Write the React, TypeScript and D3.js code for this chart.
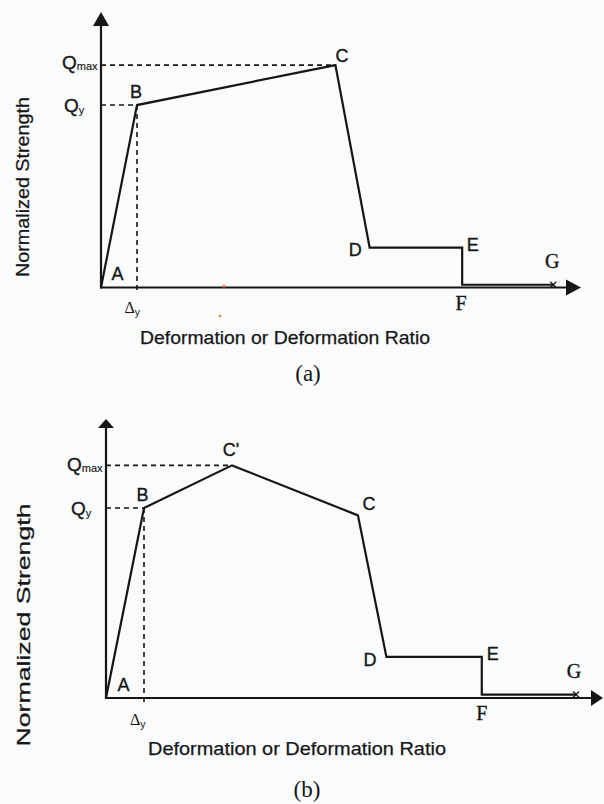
import React from 'react';
import * as d3 from 'd3';

// Panel (a): backbone curve A-B-C-D-E-F-G (deformation in units of Δy, strength in units of Qy)
const curveALabels = ['A', 'B', 'C', 'D', 'E', 'F', 'G'];
const curveADeformation = [0, 1, 6.51, 7.46, 10.03, 10.03, 12.56];
const curveAStrength = [0, 1, 1.219, 0.219, 0.219, 0.015, 0.015];

// Panel (b): A-B-C'-C-D-E-F-G
const curveBLabels = ['A', 'B', "C'", 'C', 'D', 'E', 'F', 'G'];
const curveBDeformation = [0, 1, 3.316, 6.63, 7.38, 9.89, 9.89, 12.37];
const curveBStrength = [0, 1, 1.224, 0.961, 0.216, 0.216, 0.018, 0.018];

const xTitle = 'Deformation or Deformation Ratio';
const yTitle = 'Normalized Strength';

const INK = '#161616';
const SANS = '"Liberation Sans", Arial, Helvetica, sans-serif';
const SERIF = '"Liberation Serif", "Times New Roman", serif';
const serifLabels = new Set(['F', 'G']);

interface PanelCfg {
  labels: string[];
  deformation: number[];
  strength: number[];
  qmaxIdx: number;
  xMax: number;
  yMax: number;
  xRange: [number, number];
  yRange: [number, number];
  arrowX: { len: number; half: number };
  arrowY: { len: number; half: number };
  offsets: Record<string, [number, number]>;
  dyDashEnd: number;
  qmaxLabel: { x: number; y: number };
  qyLabel: { x: number; y: number };
  deltaLabel: { x: number; y: number };
  xTitlePos: { x: number; y: number; len: number; size: number };
  yTitlePos: { x: number; y: number; len: number; size: number };
  caption: { text: string; x: number; y: number };
}

const panels: PanelCfg[] = [
  {
    labels: curveALabels,
    deformation: curveADeformation,
    strength: curveAStrength,
    qmaxIdx: 2,
    xMax: 13.33,
    yMax: 1.51,
    xRange: [101, 581],
    yRange: [287.5, 12],
    arrowX: { len: 15, half: 8 },
    arrowY: { len: 14, half: 8 },
    offsets: {
      A: [16.5, -7.5], B: [-1, -7.5], C: [6.5, -3.5], D: [-14.5, 8.5],
      E: [10.5, 3.5], F: [-1, 25], G: [-1, -17],
    },
    dyDashEnd: 294,
    qmaxLabel: { x: 62, y: 69 },
    qyLabel: { x: 64, y: 112 },
    deltaLabel: { x: 124.5, y: 313 },
    xTitlePos: { x: 285, y: 344, len: 290, size: 18.5 },
    yTitlePos: { x: 28.5, y: 187, len: 180, size: 18.5 },
    caption: { text: '(a)', x: 308, y: 381 },
  },
  {
    labels: curveBLabels,
    deformation: curveBDeformation,
    strength: curveBStrength,
    qmaxIdx: 2,
    xMax: 13.08,
    yMax: 1.468,
    xRange: [106, 603],
    yRange: [698, 419],
    arrowX: { len: 12, half: 8 },
    arrowY: { len: 9, half: 8 },
    offsets: {
      A: [17.5, -7], B: [-1.5, -7], "C'": [-1, -9.5], C: [11, -5.5],
      D: [-16.5, 9], E: [11, 3], F: [0, 25.5], G: [-2, -16.5],
    },
    dyDashEnd: 706,
    qmaxLabel: { x: 67, y: 471 },
    qyLabel: { x: 71, y: 515 },
    deltaLabel: { x: 130, y: 725 },
    xTitlePos: { x: 297, y: 755, len: 298, size: 19 },
    yTitlePos: { x: 30, y: 625, len: 243, size: 19 },
    caption: { text: '(b)', x: 307, y: 797 },
  },
];

function Panel({ cfg }: { cfg: PanelCfg }) {
  const x = d3.scaleLinear().domain([0, cfg.xMax]).range(cfg.xRange);
  const y = d3.scaleLinear().domain([0, cfg.yMax]).range(cfg.yRange);

  const pts = cfg.deformation.map((d, i) => ({
    label: cfg.labels[i],
    px: x(d),
    py: y(cfg.strength[i]),
  }));

  const line = d3.line<{ px: number; py: number }>()
    .x(d => d.px)
    .y(d => d.py);

  const x0 = x(0);
  const y0 = y(0);
  const xEnd = x(cfg.xMax);
  const yEnd = y(cfg.yMax);
  const b = pts[1];
  const qmax = pts[cfg.qmaxIdx];
  const g = pts[pts.length - 1];

  const textProps = { fill: INK, stroke: INK, strokeWidth: 0.35 };

  return (
    <g>
      {/* y axis with arrow */}
      <line x1={x0} y1={y0 + 1} x2={x0} y2={yEnd + cfg.arrowY.len} stroke={INK} strokeWidth={2.2} />
      <path
        d={`M${x0},${yEnd} L${x0 - cfg.arrowY.half},${yEnd + cfg.arrowY.len} L${x0 + cfg.arrowY.half},${yEnd + cfg.arrowY.len} Z`}
        fill={INK}
      />
      {/* x axis with arrow */}
      <line x1={x0 - 1} y1={y0} x2={xEnd - cfg.arrowX.len} y2={y0} stroke={INK} strokeWidth={2.2} />
      <path
        d={`M${xEnd},${y0} L${xEnd - cfg.arrowX.len},${y0 - cfg.arrowX.half} L${xEnd - cfg.arrowX.len},${y0 + cfg.arrowX.half} Z`}
        fill={INK}
      />

      {/* dashed reference lines */}
      <g stroke={INK} strokeWidth={1.6} strokeDasharray="5,4" fill="none">
        <line x1={x0} y1={qmax.py} x2={qmax.px} y2={qmax.py} />
        <line x1={x0} y1={b.py} x2={b.px} y2={b.py} />
        <line x1={b.px} y1={b.py} x2={b.px} y2={cfg.dyDashEnd} />
      </g>

      {/* backbone curve */}
      <path d={line(pts) || ''} fill="none" stroke={INK} strokeWidth={2.2} strokeLinejoin="miter" />

      {/* x marker at G */}
      <g stroke={INK} strokeWidth={1.3}>
        <line x1={g.px - 3} y1={g.py - 3} x2={g.px + 3} y2={g.py + 3} />
        <line x1={g.px - 3} y1={g.py + 3} x2={g.px + 3} y2={g.py - 3} />
      </g>

      {/* point labels */}
      {pts.map(p => {
        const [dx, dy] = cfg.offsets[p.label];
        const serif = serifLabels.has(p.label);
        return (
          <text
            key={p.label}
            x={p.px + dx}
            y={p.py + dy}
            textAnchor="middle"
            fontFamily={serif ? SERIF : SANS}
            fontSize={serif ? 20 : 18}
            {...textProps}
          >
            {p.label}
          </text>
        );
      })}

      {/* Q labels */}
      <text x={cfg.qmaxLabel.x} y={cfg.qmaxLabel.y} fontFamily={SANS} fontSize={19} {...textProps}>
        Q<tspan fontSize={11} dy={1} strokeWidth={0.15}>max</tspan>
      </text>
      <text x={cfg.qyLabel.x} y={cfg.qyLabel.y} fontFamily={SANS} fontSize={19} {...textProps}>
        Q<tspan fontSize={11} dy={2} strokeWidth={0.15}>y</tspan>
      </text>
      <text x={cfg.deltaLabel.x} y={cfg.deltaLabel.y} fontFamily={SERIF} fontSize={16} fill={INK}>
        Δ<tspan fontFamily={SANS} fontSize={10.5} dy={3}>y</tspan>
      </text>

      {/* axis titles */}
      <text
        x={cfg.xTitlePos.x}
        y={cfg.xTitlePos.y}
        textAnchor="middle"
        fontFamily={SANS}
        fontSize={cfg.xTitlePos.size}
        textLength={cfg.xTitlePos.len}
        lengthAdjust="spacingAndGlyphs"
        {...textProps}
        strokeWidth={0.25}
      >
        {xTitle}
      </text>
      <text
        transform={`translate(${cfg.yTitlePos.x},${cfg.yTitlePos.y}) rotate(-90)`}
        textAnchor="middle"
        fontFamily={SANS}
        fontSize={cfg.yTitlePos.size}
        textLength={cfg.yTitlePos.len}
        lengthAdjust="spacingAndGlyphs"
        {...textProps}
        strokeWidth={0.25}
      >
        {yTitle}
      </text>

      {/* caption */}
      <text
        x={cfg.caption.x}
        y={cfg.caption.y}
        textAnchor="middle"
        fontFamily={SERIF}
        fontSize={23}
        fill={INK}
      >
        {cfg.caption.text}
      </text>
    </g>
  );
}

export default function App() {
  return (
    <div style={{ position: 'absolute', left: 0, top: 0 }}>
      <svg width={604} height={804} viewBox="0 0 604 804" style={{ display: 'block', background: '#fafbfc' }}>
        <rect width={604} height={804} fill="#fafbfc" />
        {panels.map((p, i) => (
          <Panel key={i} cfg={p} />
        ))}
        {/* small orange specks in the source image */}
        <circle cx={224} cy={286} r={1.5} fill="#f07a3a" />
        <circle cx={220} cy={316} r={1.3} fill="#f07a3a" />
      </svg>
    </div>
  );
}
